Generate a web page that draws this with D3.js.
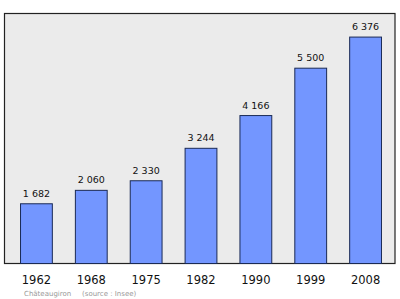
<!DOCTYPE html>
<html><head><meta charset="utf-8">
<script src="https://cdn.jsdelivr.net/npm/d3@7"></script>
<style>body{margin:0;background:#fff}svg{display:block}</style>
</head><body>
<script>
const years = ["1962","1968","1975","1982","1990","1999","2008"];
const population = [1682, 2060, 2330, 3244, 4166, 5500, 6376];
const valueLabels = ["1 682","2 060","2 330","3 244","4 166","5 500","6 376"];
const footer = ["Châteaugiron", "(source : Insee)"];

const W = 400, H = 299;
const svg = d3.select("body").append("svg").attr("width", W).attr("height", H);
const pL = 4.5, pR = 395, pT = 13.5, pB = 263.5;

svg.append("rect").attr("x", pL).attr("y", pT).attr("width", pR-pL).attr("height", pB-pT)
  .attr("fill", "#ebebeb").attr("stroke", "#222").attr("stroke-width", 1.2);

const x = d3.scaleBand().domain(years).range([9, 393]).paddingInner(0.42).paddingOuter(0.21);
const y = d3.scaleLinear().domain([0, 7040]).range([pB, pT]);

svg.selectAll("rect.bar").data(population).enter().append("rect").attr("class","bar")
  .attr("x", (d,i) => x(years[i]))
  .attr("y", d => y(d))
  .attr("width", x.bandwidth())
  .attr("height", d => pB - y(d))
  .attr("fill", "#7396ff").attr("stroke", "#1a2a55").attr("stroke-width", 1);

svg.selectAll("text.val").data(population).enter().append("text").attr("class","val")
  .attr("x", (d,i) => x(years[i]) + x.bandwidth()/2)
  .attr("y", d => y(d) - 7)
  .attr("text-anchor","middle")
  .attr("font-family","DejaVu Sans, sans-serif").attr("font-size", 9.5).attr("fill","#111")
  .text((d,i) => valueLabels[i]);

const xAxis = svg.append("g").attr("transform", `translate(0,${pB})`)
  .call(d3.axisBottom(x).tickSize(0).tickPadding(12));
xAxis.select(".domain").remove();
xAxis.selectAll("text").attr("font-family","DejaVu Sans, sans-serif").attr("font-size", 11.5).attr("fill","#111");

svg.append("text").attr("x", 24).attr("y", 295.5).attr("font-family","DejaVu Sans, sans-serif")
  .attr("font-size", 7).attr("fill","#999").text(footer[0]);
svg.append("text").attr("x", 82).attr("y", 295.5).attr("font-family","DejaVu Sans, sans-serif")
  .attr("font-size", 7).attr("fill","#999").text(footer[1]);
</script>
</body></html>
